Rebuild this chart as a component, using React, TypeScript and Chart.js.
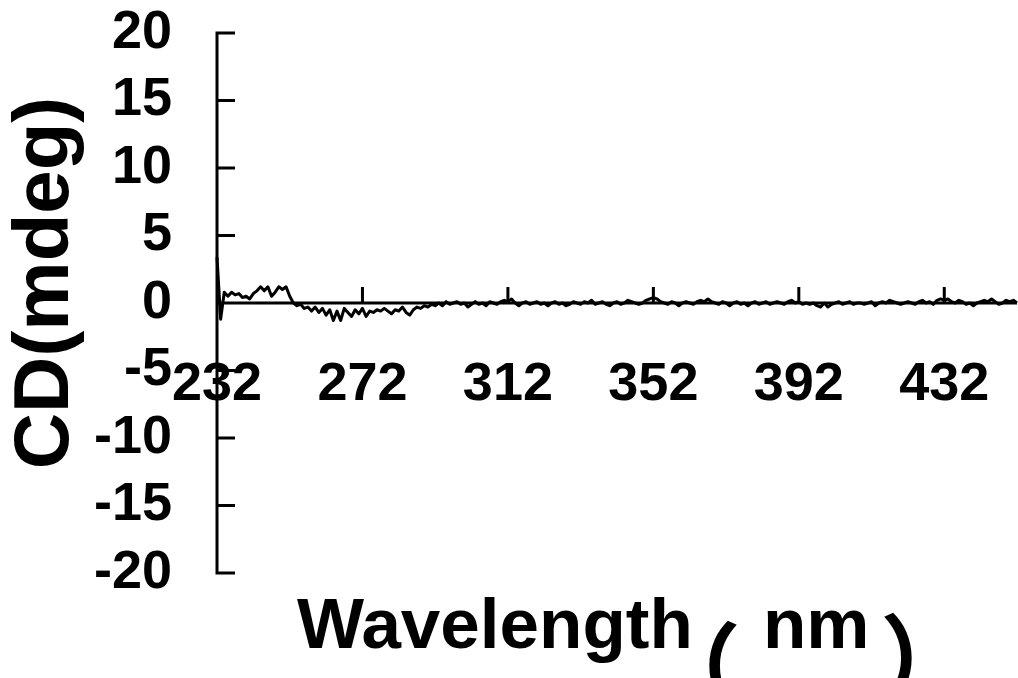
import { useEffect, useRef } from "react";
import { Chart, registerables } from "chart.js";

Chart.register(...registerables);

// Sampling grid of the spectrum (nm)
const START_NM = 232;
const STEP_NM = 1;

// CD signal (mdeg), one value per nm from 232 to 452
const CD_VALUES = [
  3.4, -1.2, 0.8, 0.5, 0.8, 0.6, 0.7, 0.4, 0.5, 0.3,
  0.7, 0.9, 1.2, 0.9, 1.2, 0.5, 0.8, 1.2, 1.0, 1.2,
  0.5, 0.0, -0.2, -0.1, -0.4, -0.3, -0.6, -0.3, -0.7, -0.4,
  -0.9, -0.5, -1.3, -0.6, -1.3, -0.4, -0.7, -1.0, -0.5, -0.8,
  -0.4, -1.0, -0.6, -0.7, -0.5, -0.6, -0.4, -0.6, -0.8, -0.5,
  -0.6, -0.3, -0.7, -0.9, -0.5, -0.3, -0.4, -0.2, -0.3, -0.1,
  -0.2, 0.0, -0.2, 0.1, -0.1, 0.0, 0.1, -0.1, 0.0, -0.3,
  -0.1, 0.1, -0.1, 0.0, -0.2, 0.1, 0.0, -0.1, 0.1, 0.2,
  0.1, 0.3, 0.0, -0.2, 0.0, 0.1, -0.1, 0.0, 0.1, -0.1,
  0.0, -0.2, 0.0, 0.1, -0.1, 0.0, -0.2, -0.1, 0.1, 0.0,
  -0.1, 0.1, 0.0, 0.2, -0.1, 0.0, 0.1, -0.1, -0.2, 0.0,
  0.1, -0.1, 0.0, 0.2, 0.1, 0.0, -0.1, 0.0, 0.2, 0.3,
  0.4, 0.3, 0.1, 0.0, -0.1, 0.1, 0.0, -0.2, 0.0, 0.1,
  0.0, -0.1, 0.1, 0.2, 0.1, 0.3, 0.1, 0.0, -0.1, 0.1,
  0.0, -0.2, 0.0, 0.1, -0.1, 0.0, -0.2, 0.0, 0.1, -0.1,
  0.0, 0.1, -0.1, 0.0, 0.1, 0.0, -0.1, 0.1, 0.2, 0.0,
  0.1, -0.1, 0.0, -0.1, 0.0, -0.2, -0.3, 0.0, -0.3, -0.1,
  0.0, 0.1, -0.1, 0.0, 0.1, -0.1, 0.0, 0.0, -0.1, 0.0,
  0.1, -0.2, 0.0, 0.1, 0.0, 0.2, 0.1, 0.0, -0.1, 0.0,
  0.1, 0.0, -0.1, 0.1, 0.2, 0.0, 0.1, -0.1, 0.2, 0.3,
  0.2, 0.3, 0.1, 0.0, 0.2, 0.1, -0.1, 0.0, -0.2, 0.0,
  0.1, 0.2, 0.1, 0.3, 0.1, -0.1, 0.0, 0.2, 0.1, 0.2,
  0.0,
];

const X_TICKS = [232, 272, 312, 352, 392, 432];
const X_MIN = 232;
const X_MAX = 452;
const Y_MIN = -20;
const Y_MAX = 20;
const Y_STEP = 5;
// x title pieces: "Wavelength（nm）"
const X_TITLE_PARTS = ["Wavelength", "（", "nm", "）"];
const Y_TITLE = "CD(mdeg)";

const FONT_FAMILY = '"Liberation Sans", Arial, "Noto Sans CJK SC", sans-serif';
const CJK_FAMILY = '"Noto Sans CJK SC", "Liberation Sans", sans-serif';

// draw text so that its ink box starts at (left, top) or sits on baseline
function drawInkLeft(ctx: CanvasRenderingContext2D, text: string, left: number, baseline: number) {
  const m = ctx.measureText(text);
  ctx.fillText(text, left + m.actualBoundingBoxLeft, baseline);
}
function drawInkBox(ctx: CanvasRenderingContext2D, text: string, left: number, top: number) {
  const m = ctx.measureText(text);
  ctx.fillText(text, left + m.actualBoundingBoxLeft, top + m.actualBoundingBoxAscent);
}

const axesPlugin = {
  id: "cdAxes",
  afterDatasetsDraw(chart: any) {
    const { ctx, chartArea } = chart;
    const x = chart.scales.x;
    const y = chart.scales.y;
    const x0 = x.getPixelForValue(X_MIN);
    const y0 = y.getPixelForValue(0);
    ctx.save();
    ctx.strokeStyle = "#000";
    ctx.lineWidth = 3;
    ctx.lineCap = "butt";
    ctx.beginPath();
    ctx.moveTo(x0, y.getPixelForValue(Y_MAX) - 1.5);
    ctx.lineTo(x0, y.getPixelForValue(Y_MIN) + 1.5);
    y.ticks.forEach((t: any) => {
      const py = y.getPixelForValue(t.value);
      ctx.moveTo(x0, py);
      ctx.lineTo(x0 + 18, py);
    });
    ctx.moveTo(x0, y0);
    ctx.lineTo(chartArea.right, y0);
    x.ticks.forEach((t: any) => {
      const px = x.getPixelForValue(t.value);
      ctx.moveTo(px, y0);
      ctx.lineTo(px, y0 - 16);
    });
    ctx.stroke();

    ctx.fillStyle = "#000";
    ctx.textAlign = "left";
    ctx.textBaseline = "alphabetic";
    ctx.font = `bold 71px ${FONT_FAMILY}`;
    drawInkLeft(ctx, X_TITLE_PARTS[0], 297, 648);
    drawInkLeft(ctx, X_TITLE_PARTS[2], 767, 648);
    ctx.font = `bold 94px ${CJK_FAMILY}`;
    drawInkBox(ctx, X_TITLE_PARTS[1], 709, 620);
    drawInkBox(ctx, X_TITLE_PARTS[3], 884, 612);

    ctx.save();
    ctx.translate(68, 283);
    ctx.rotate(-Math.PI / 2);
    ctx.font = `bold 78px ${FONT_FAMILY}`;
    ctx.textAlign = "center";
    ctx.fillText(Y_TITLE, 0, 0);
    ctx.restore();
    ctx.restore();
  },
};

const zeroPadding = (scale: any) => {
  scale.paddingTop = 0;
  scale.paddingBottom = 0;
  scale.paddingLeft = 0;
  scale.paddingRight = 0;
};

export default function App() {
  const canvasRef = useRef<HTMLCanvasElement | null>(null);

  useEffect(() => {
    document.body.style.margin = "0";
    const canvas = canvasRef.current;
    if (!canvas) return;
    const points = CD_VALUES.map((v, i) => ({ x: START_NM + i * STEP_NM, y: v }));
    const chart = new Chart(canvas, {
      type: "line",
      data: {
        datasets: [
          {
            data: points,
            borderColor: "#000",
            borderWidth: 3,
            pointRadius: 0,
            tension: 0,
            borderJoinStyle: "round",
            clip: false as any,
          },
        ],
      },
      options: {
        animation: false,
        responsive: true,
        maintainAspectRatio: false,
        events: [],
        layout: { padding: { left: 0, top: 33, bottom: 105, right: 1 } },
        plugins: { legend: { display: false }, tooltip: { enabled: false } },
        scales: {
          x: {
            type: "linear",
            min: X_MIN,
            max: X_MAX,
            position: { y: 0 } as any,
            grid: { display: false, drawTicks: false },
            border: { display: false },
            afterFit: zeroPadding,
            afterBuildTicks: (scale: any) => {
              scale.ticks = X_TICKS.map((v) => ({ value: v }));
            },
            ticks: {
              autoSkip: false,
              maxRotation: 0,
              color: "#000",
              padding: 50,
              font: { family: FONT_FAMILY, size: 54, weight: "bold" },
            },
          },
          y: {
            type: "linear",
            min: Y_MIN,
            max: Y_MAX,
            position: "left",
            grid: { display: false, drawTicks: false },
            border: { display: false },
            afterFit: (scale: any) => {
              zeroPadding(scale);
              scale.width = 217;
            },
            ticks: {
              stepSize: Y_STEP,
              autoSkip: false,
              color: "#000",
              padding: 45,
              font: { family: FONT_FAMILY, size: 54, weight: "bold" },
            },
          },
        },
      },
      plugins: [axesPlugin],
    });
    return () => chart.destroy();
  }, []);

  return (
    <div style={{ width: 1018, height: 678, position: "relative", background: "#fff" }}>
      <canvas ref={canvasRef} />
    </div>
  );
}
